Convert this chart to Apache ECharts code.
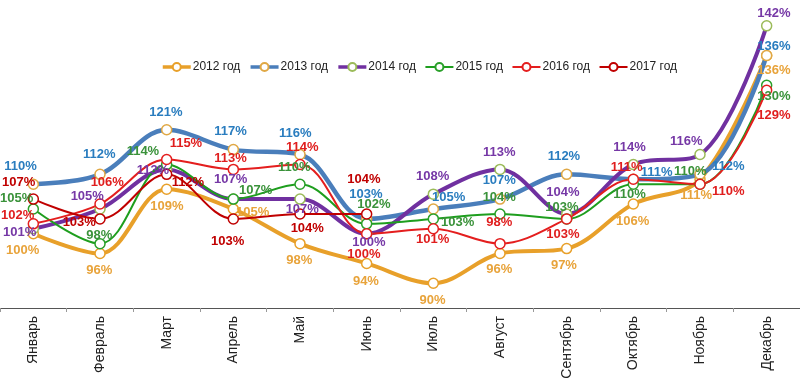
<!DOCTYPE html>
<html>
<head>
<meta charset="utf-8">
<script src="https://cdn.jsdelivr.net/npm/echarts@6/dist/echarts.min.js"></script>
<style>
html,body{margin:0;padding:0;background:#fff;}
#chart{width:800px;height:388px;}
</style>
</head>
<body>
<div id="chart"></div>
<script>
// ---- data ----
const months = ['Январь','Февраль','Март','Апрель','Май','Июнь','Июль','Август','Сентябрь','Октябрь','Ноябрь','Декабрь'];
const seriesNames = ['2012 год','2013 год','2014 год','2015 год','2016 год','2017 год'];
const v2012 = [100, 96, 109, 105, 98, 94, 90, 96, 97, 106, 111, 136];
const v2013 = [110, 112, 121, 117, 116, 103, 105, 107, 112, 111, 112, 136];
const v2014 = [101, 105, 113, 107, 107, 100, 108, 113, 104, 114, 116, 142];
const v2015 = [105, 98, 114, 107, 110, 102, 103, 104, 103, 110, 110, 130];
const v2016 = [102, 106, 115, 113, 114, 100, 101, 98, 103, 111, 110, 129];
const v2017 = [107, 103, 112, 103, 104, 104];

// ---- styles (label offsets relative to each point) ----
const off2012 = [[-10,17],[0,18],[1,18],[20,4],[0,18],[0,19],[0,18],[0,17],[-2,18],[0,18],[-3,17],[8,16]];
const off2013 = [[-12,-17],[0,-19],[0,-17],[-2,-17],[-4,-20],[0,-24],[16,-11],[0,-18],[-2,-17],[24,-6],[29,-7],[8,-8]];
const off2014 = [[-13,4],[-12,-12],[-13,2],[-2,-19],[3,11],[3,9],[0,-17],[0,-16],[-3,-21],[-3,-16],[-13,-12],[8,-12]];
const off2015 = [[-16,-10],[0,-7],[-23,-12],[23,-8],[-5,-16],[8,-19],[25,4],[0,-16],[-4,-11],[-3,11],[-9,-12],[8,12]];
const off2016 = [[-15,-8],[8,-21],[20,-15],[-2,-10],[3,-16],[-2,21],[0,11],[0,-20],[-3,16],[-6,-11],[29,8],[8,26]];
const off2017 = [[-14,-16],[-20,4],[22,9],[-5,23],[8,15],[-2,-34]];

const SYM = 10;
const styles = [
  {line:'#E8A02A', width:4, border:'#E8A02A', label:'#E8A33A'},
  {line:'#4A7EBB', width:4.5, border:'#E0A845', label:'#2A7DBF'},
  {line:'#7030A0', width:4, border:'#9BBB59', label:'#7638A6'},
  {line:'#1E9E1E', width:2, border:'#2AA02A', label:'#3A923A'},
  {line:'#E41E1E', width:2, border:'#E41E1E', label:'#E01E1E'},
  {line:'#C00000', width:2, border:'#C00000', label:'#C00000'}
];
const values = [v2012, v2013, v2014, v2015, v2016, v2017];
const offsets = [off2012, off2013, off2014, off2015, off2016, off2017];

const series = values.map((vals, s) => ({
  name: seriesNames[s],
  type: 'line',
  smooth: 0.35,
  symbol: 'circle',
  symbolSize: SYM,
  showAllSymbol: true,
  lineStyle: {color: styles[s].line, width: styles[s].width},
  itemStyle: {color: '#fff', borderColor: styles[s].border, borderWidth: 1.5},
  label: {
    show: true,
    formatter: '{c}%',
    color: styles[s].label,
    align: 'center',
    verticalAlign: 'middle',
    fontFamily: 'Liberation Sans, Arial, sans-serif',
    fontWeight: 'bold',
    fontSize: 13
  },
  labelLayout: {hideOverlap: false},
  emphasis: {disabled: true},
  data: vals.map((v, i) => ({
    value: v,
    label: {position: [SYM / 2 + offsets[s][i][0], SYM / 2 + offsets[s][i][1]]}
  }))
}));

const chart = echarts.init(document.getElementById('chart'), null, {renderer: 'canvas'});
chart.setOption({
  animation: false,
  backgroundColor: '#fff',
  color: styles.map(s => s.line),
  legend: {
    data: seriesNames.map((n, s) => ({
      name: n,
      lineStyle: {width: Math.min(styles[s].width, 3.5)}
    })),
    left: 156,
    top: 56,
    itemWidth: 28,
    itemHeight: 10,
    itemGap: 8.5,
    textStyle: {fontFamily: 'Liberation Sans, Arial, sans-serif', fontSize: 12, color: '#222', padding: [0, 0, 0, -3]}
  },
  grid: {left: -6, right: -2, top: 11, bottom: 80, containLabel: false},
  xAxis: {
    type: 'category',
    data: months,
    boundaryGap: true,
    axisLine: {lineStyle: {color: '#555', width: 1}},
    axisTick: {show: true, interval: 0, length: 4, lineStyle: {color: '#999'}},
    axisLabel: {
      interval: 0,
      rotate: 90,
      margin: 8,
      fontFamily: 'Liberation Sans, Arial, sans-serif',
      fontSize: 14,
      color: '#222'
    }
  },
  yAxis: {
    type: 'value',
    min: 85,
    max: 145,
    show: false,
    splitLine: {show: false}
  },
  series: series
});
</script>
</body>
</html>
